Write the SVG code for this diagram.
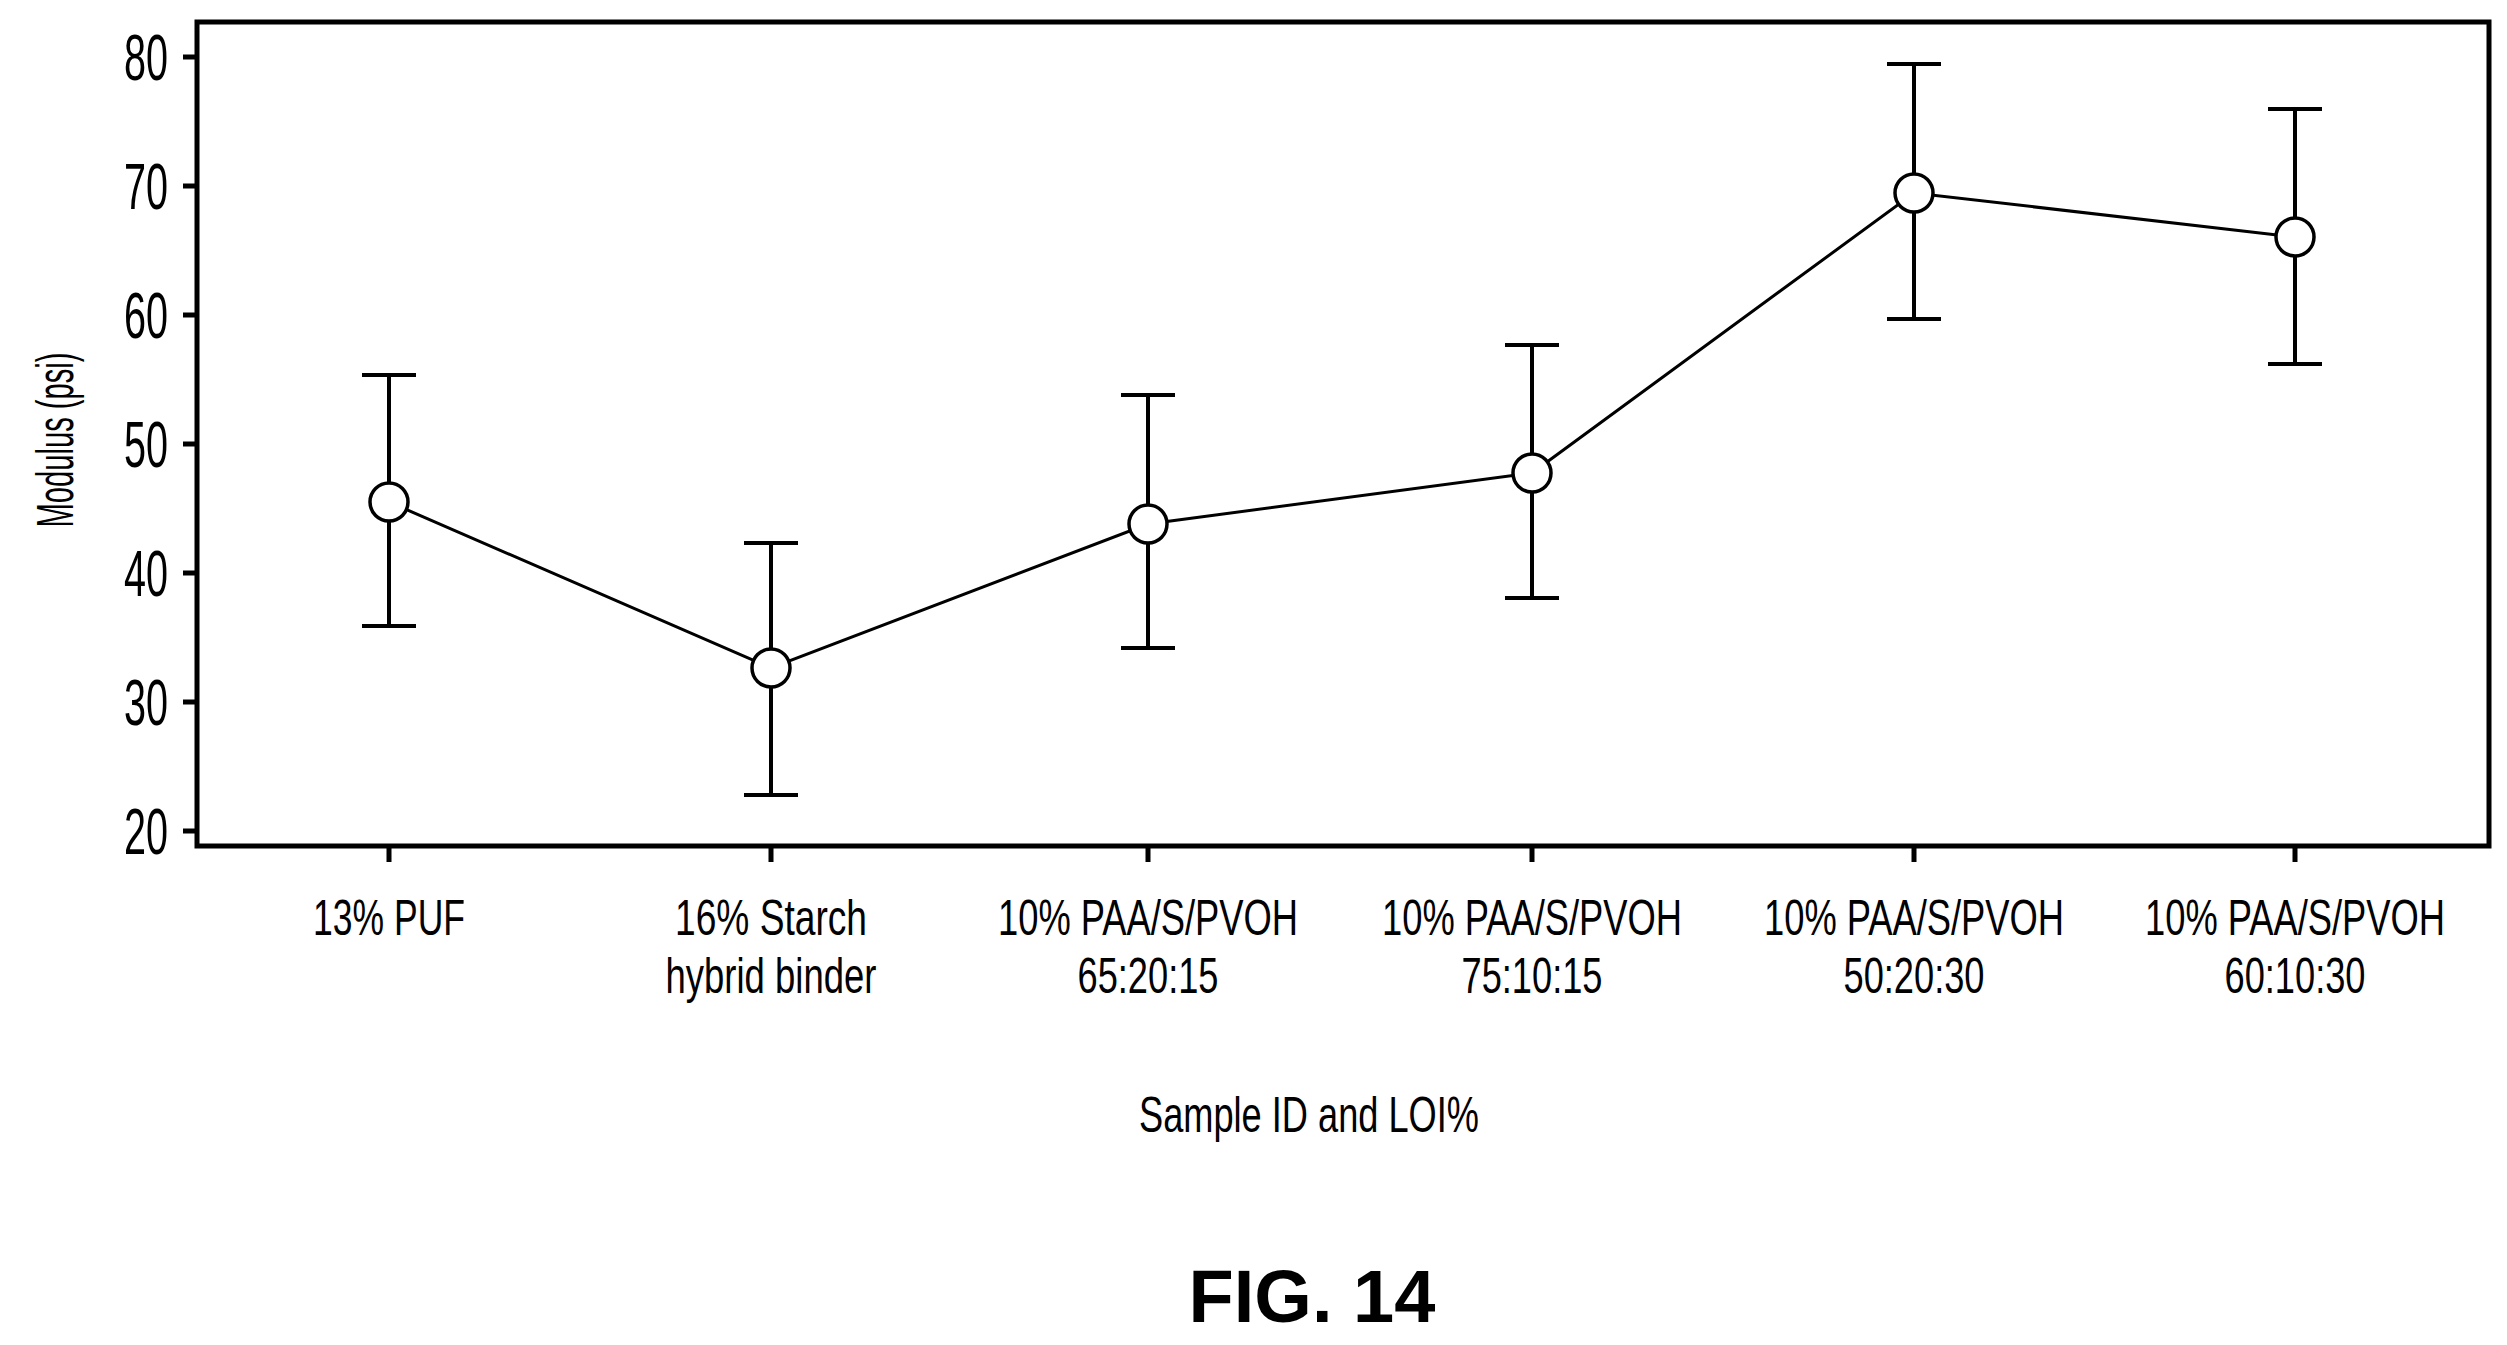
<svg xmlns="http://www.w3.org/2000/svg" width="2507" height="1345" viewBox="0 0 2507 1345">
<style>
.ax{stroke:#000;stroke-width:5;fill:none}
.ln{stroke:#000;stroke-width:3;fill:none}
.eb{stroke:#000;stroke-width:4;fill:none}
.pt{stroke:#000;stroke-width:3.5;fill:#fff}
text{font-family:"Liberation Sans",Arial,sans-serif;fill:#000}
.yt{font-size:64px;text-anchor:end}
.xl{font-size:50px;text-anchor:middle}
</style>
<rect width="2507" height="1345" fill="#fff"/>
<g id="axes">
<rect class="ax" x="197" y="22" width="2292" height="824"/>
<path class="ax" d="M183 57H197M183 186H197M183 315H197M183 444H197M183 573H197M183 702H197M183 831H197"/>
<path class="ax" d="M389 846V862M771 846V862M1148 846V862M1532 846V862M1914 846V862M2295 846V862"/>
<text class="yt" x="168" y="80" textLength="44" lengthAdjust="spacingAndGlyphs">80</text>
<text class="yt" x="168" y="209" textLength="44" lengthAdjust="spacingAndGlyphs">70</text>
<text class="yt" x="168" y="338" textLength="44" lengthAdjust="spacingAndGlyphs">60</text>
<text class="yt" x="168" y="467" textLength="44" lengthAdjust="spacingAndGlyphs">50</text>
<text class="yt" x="168" y="596" textLength="44" lengthAdjust="spacingAndGlyphs">40</text>
<text class="yt" x="168" y="725" textLength="44" lengthAdjust="spacingAndGlyphs">30</text>
<text class="yt" x="168" y="854" textLength="44" lengthAdjust="spacingAndGlyphs">20</text>
<text transform="translate(73,440) rotate(-90)" font-size="52" text-anchor="middle" textLength="175" lengthAdjust="spacingAndGlyphs">Modulus (psi)</text>
</g>
<g id="labels">
<text class="xl" x="389" y="935" textLength="152" lengthAdjust="spacingAndGlyphs">13% PUF</text>
<text class="xl" x="771" y="935" textLength="192" lengthAdjust="spacingAndGlyphs">16% Starch</text>
<text class="xl" x="771" y="993" textLength="211" lengthAdjust="spacingAndGlyphs">hybrid binder</text>
<text class="xl" x="1148" y="935" textLength="300" lengthAdjust="spacingAndGlyphs">10% PAA/S/PVOH</text>
<text class="xl" x="1148" y="993" textLength="141" lengthAdjust="spacingAndGlyphs">65:20:15</text>
<text class="xl" x="1532" y="935" textLength="300" lengthAdjust="spacingAndGlyphs">10% PAA/S/PVOH</text>
<text class="xl" x="1532" y="993" textLength="141" lengthAdjust="spacingAndGlyphs">75:10:15</text>
<text class="xl" x="1914" y="935" textLength="300" lengthAdjust="spacingAndGlyphs">10% PAA/S/PVOH</text>
<text class="xl" x="1914" y="993" textLength="141" lengthAdjust="spacingAndGlyphs">50:20:30</text>
<text class="xl" x="2295" y="935" textLength="300" lengthAdjust="spacingAndGlyphs">10% PAA/S/PVOH</text>
<text class="xl" x="2295" y="993" textLength="141" lengthAdjust="spacingAndGlyphs">60:10:30</text>
<text class="xl" x="1309" y="1132" textLength="340" lengthAdjust="spacingAndGlyphs">Sample ID and LOI%</text>
<text x="1312" y="1322" font-size="74" font-weight="bold" text-anchor="middle">FIG. 14</text>
</g>
<g id="connectors">
<polyline class="ln" points="389,502 771,668 1148,524 1532,473 1914,193 2295,237"/>
</g>
<g id="errorbars">
<path class="eb" d="M389 375V626M362 375H416M362 626H416"/>
<path class="eb" d="M771 543V795M744 543H798M744 795H798"/>
<path class="eb" d="M1148 395V648M1121 395H1175M1121 648H1175"/>
<path class="eb" d="M1532 345V598M1505 345H1559M1505 598H1559"/>
<path class="eb" d="M1914 64V319M1887 64H1941M1887 319H1941"/>
<path class="eb" d="M2295 109V364M2268 109H2322M2268 364H2322"/>
</g>
<g id="p1"><circle class="pt" cx="389" cy="502" r="19"/></g>
<g id="p2"><circle class="pt" cx="771" cy="668" r="19"/></g>
<g id="p3"><circle class="pt" cx="1148" cy="524" r="19"/></g>
<g id="p4"><circle class="pt" cx="1532" cy="473" r="19"/></g>
<g id="p5"><circle class="pt" cx="1914" cy="193" r="19"/></g>
<g id="p6"><circle class="pt" cx="2295" cy="237" r="19"/></g>
</svg>
